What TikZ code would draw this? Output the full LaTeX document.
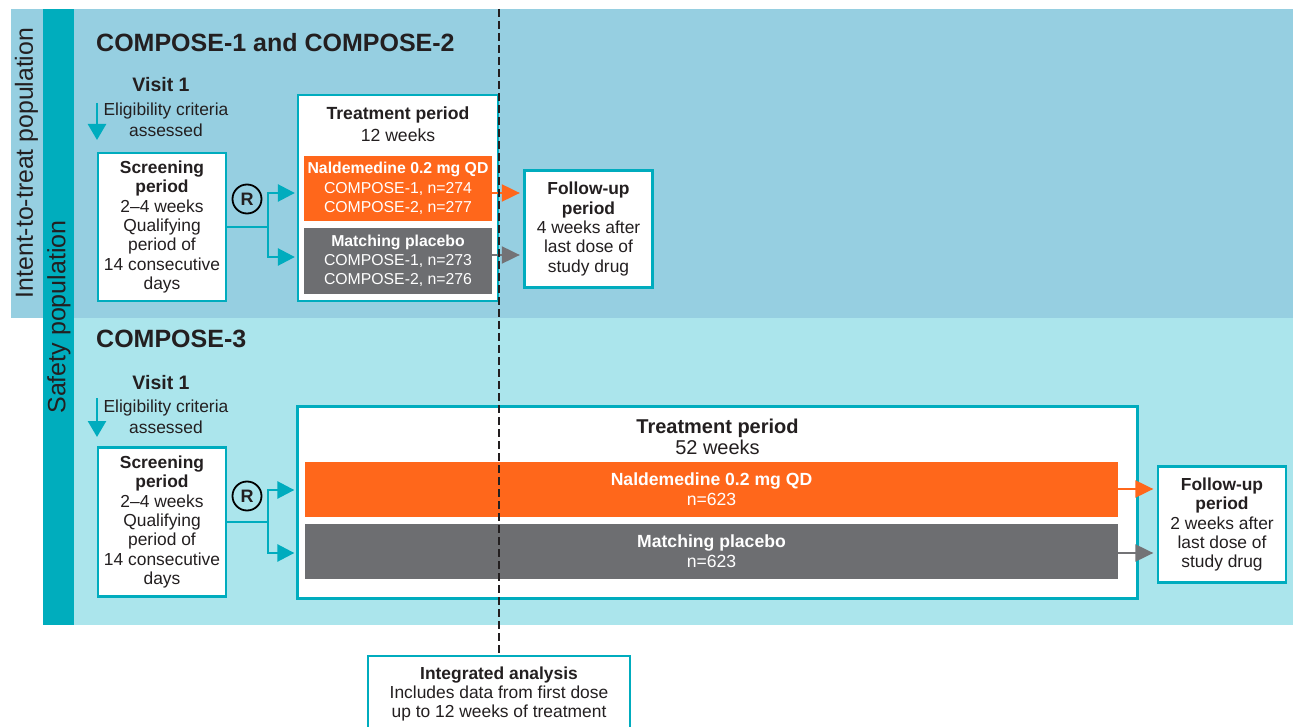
\documentclass[tikz,border=0pt]{standalone}
\usepackage{fontspec}
\setmainfont{Liberation Sans}
\usetikzlibrary{arrows.meta}
\definecolor{ittblue}{RGB}{150,207,225}
\definecolor{safeblue}{RGB}{171,229,236}
\definecolor{tealstrip}{RGB}{0,173,189}
\definecolor{tealline}{RGB}{0,172,190}
\definecolor{orangec}{RGB}{255,103,27}
\definecolor{grayc}{RGB}{109,110,113}
\definecolor{grayarr}{RGB}{115,115,118}
\definecolor{darktext}{RGB}{35,31,32}
\begin{document}
\begin{tikzpicture}[x=1pt,y=-1pt,
  lbl/.style={text=darktext, inner sep=0pt},
  box/.style={draw=tealline, line width=2.3pt, fill=white, inner sep=0pt, text=darktext, align=center, font=\fontsize{17.4}{19.3}\selectfont},
  bar/.style={inner sep=0pt, text=white, align=center},
  rcirc/.style={circle, draw=black, line width=1.8pt, minimum size=29pt, inner sep=0pt, text=darktext, font=\fontsize{18}{18}\selectfont\bfseries},
  tealarrow/.style={draw=tealline, line width=2.6pt, -{Triangle[length=17pt,width=17pt]}, shorten >=2pt},
  tealplain/.style={draw=tealline, line width=2.6pt},
  visarrow/.style={draw=tealline, line width=2.6pt, -{Triangle[length=16pt,width=18pt]}},
  orarrow/.style={draw=orangec, line width=2pt, -{Triangle[length=18pt,width=17pt]}, shorten >=3.5pt},
  grarrow/.style={draw=grayarr, line width=2pt, -{Triangle[length=18pt,width=17pt]}, shorten >=3.5pt},
  dashline/.style={draw=darktext, line width=1.2pt, dash pattern=on 8pt off 4pt}
]
\useasboundingbox (0,0) rectangle (1293,727);
% backgrounds
\fill[ittblue] (11,9) rectangle (1293,318);
\fill[safeblue] (74,318) rectangle (1293,625);
\fill[tealstrip] (43,9) rectangle (74,625);
\node[lbl, rotate=90, font=\fontsize{24.8}{25}\selectfont] (itt) at (26.5,163) {Intent-to-treat population};
\node[lbl, rotate=90, font=\fontsize{25}{25}\selectfont] (safe) at (59,317) {Safety population};

% ===== COMPOSE-1 and COMPOSE-2 =====
\node[lbl, anchor=base west, font=\fontsize{25}{30}\selectfont\bfseries] (t12) at (96,52) {COMPOSE-1 and COMPOSE-2};
\node[lbl, anchor=base, font=\fontsize{19.5}{22}\selectfont\bfseries] (v1) at (161,92) {Visit 1};
\node[lbl, align=center, font=\fontsize{17.4}{20.5}\selectfont] (el1) at (166,120) {Eligibility criteria\\assessed};
\coordinate (a1s) at (97,103);
\coordinate (a1e) at (97,140);
\draw[visarrow] (a1s) -- (a1e);
\node[box, minimum width=128, minimum height=148] (scr1) at (162,227) {\textbf{Screening}\\\textbf{period}\\2--4 weeks\\Qualifying\\period of\\14 consecutive\\days};
\node[rcirc] (r1) at (247,199) {R};
\node[box, minimum width=200, minimum height=206] (tr1) at (398,198) {};
\node[lbl, anchor=base, font=\fontsize{17.6}{20}\selectfont\bfseries] (tr1t) at (398,119.5) {Treatment period};
\node[lbl, anchor=base, font=\fontsize{17.6}{20}\selectfont] (tr1w) at (398,142) {12 weeks};
\node[bar, fill=orangec, minimum width=188, minimum height=65, font=\fontsize{15.8}{19.3}\selectfont] (or1) at (398,188.5) {\textbf{Naldemedine 0.2 mg QD}\\COMPOSE-1, n=274\\COMPOSE-2, n=277};
\node[bar, fill=grayc, minimum width=188, minimum height=66, font=\fontsize{15.8}{19}\selectfont] (gr1) at (398,261) {\textbf{Matching placebo}\\COMPOSE-1, n=273\\COMPOSE-2, n=276};
\node[box, minimum width=128, minimum height=117] (fu1) at (588.5,229) {\textbf{Follow-up}\\\textbf{period}\\4 weeks after\\last dose of\\study drug};
\coordinate (br1) at (268,227);
\draw[tealplain] (scr1.east) -- (br1);
\draw[tealarrow] (br1) |- (tr1.west |- 0,193);
\draw[tealarrow] (br1) |- (tr1.west |- 0,257);
\draw[orarrow] (or1.east |- 0,193) -- (fu1.west |- 0,193);
\draw[grarrow] (gr1.east |- 0,255) -- (fu1.west |- 0,255);

% ===== COMPOSE-3 =====
\node[lbl, anchor=base west, font=\fontsize{25}{30}\selectfont\bfseries] (t3) at (96,348) {COMPOSE-3};
\node[lbl, anchor=base, font=\fontsize{19.5}{22}\selectfont\bfseries] (v2) at (161,389) {Visit 1};
\node[lbl, align=center, font=\fontsize{17.4}{20.5}\selectfont] (el2) at (166,417) {Eligibility criteria\\assessed};
\coordinate (a2s) at (97,398);
\coordinate (a2e) at (97,437);
\draw[visarrow] (a2s) -- (a2e);
\node[box, minimum width=128, minimum height=149] (scr2) at (162,522) {\textbf{Screening}\\\textbf{period}\\2--4 weeks\\Qualifying\\period of\\14 consecutive\\days};
\node[rcirc] (r2) at (247,496) {R};
\node[box, minimum width=840, minimum height=192] (tr2) at (717.5,502.5) {};
\node[lbl, anchor=base, font=\fontsize{20}{22}\selectfont\bfseries] (tr2t) at (717.5,433) {Treatment period};
\node[lbl, anchor=base, font=\fontsize{20}{22}\selectfont] (tr2w) at (717.5,454) {52 weeks};
\node[bar, fill=orangec, minimum width=813, minimum height=55, font=\fontsize{17.6}{20}\selectfont] (or2) at (711.5,489.5) {\textbf{Naldemedine 0.2 mg QD}\\n=623};
\node[bar, fill=grayc, minimum width=813, minimum height=55, font=\fontsize{17.6}{20}\selectfont] (gr2) at (711.5,551.5) {\textbf{Matching placebo}\\n=623};
\node[box, minimum width=128, minimum height=116] (fu2) at (1222,524.5) {\textbf{Follow-up}\\\textbf{period}\\2 weeks after\\last dose of\\study drug};
\coordinate (br2) at (268,522);
\draw[tealplain] (scr2.east) -- (br2);
\draw[tealarrow] (br2) |- (tr2.west |- 0,490);
\draw[tealarrow] (br2) |- (tr2.west |- 0,553);
\draw[orarrow] (or2.east |- 0,489) -- (fu2.west |- 0,489);
\draw[grarrow] (gr2.east |- 0,553) -- (fu2.west |- 0,553);

% ===== Integrated analysis =====
\node[box, minimum width=262, minimum height=90] (integ) at (499,701) {};
\node[lbl, align=center, font=\fontsize{17.4}{19}\selectfont] (integt) at (499,694) {\textbf{Integrated analysis}\\Includes data from first dose\\up to 12 weeks of treatment};
\coordinate (dtop) at (499,9);
\draw[dashline] (dtop) -- (integ.north);
\end{tikzpicture}
\end{document}
